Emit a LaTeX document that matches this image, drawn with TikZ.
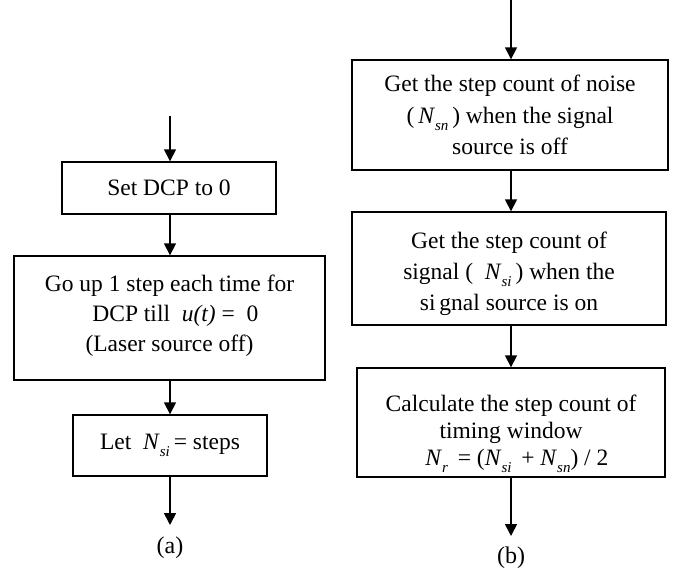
\documentclass[tikz,border=0pt]{standalone}
\usepackage{fontspec}
\setmainfont{Liberation Serif}
\usetikzlibrary{arrows.meta}
\newcommand{\Nsub}[1]{\textit{N}\raisebox{-0.3em}{\fontsize{15}{15}\selectfont\textit{#1}}}
\begin{document}
\begin{tikzpicture}[x=1pt,y=-1pt,
  box/.style={draw,line width=1.4pt,align=center,inner sep=0pt,font=\fontsize{23.5}{30}\selectfont},
  boxtext/.style={align=center,inner sep=0pt},
  arr/.style={line width=1.6pt,-{Triangle[width=12pt,length=12pt]}},
  figlabel/.style={font=\fontsize{24}{28}\selectfont}]
\useasboundingbox (0,0) rectangle (679,569);
% (a)
\coordinate (atop) at (170,116);
\node[box,minimum width=214pt,minimum height=52pt] (a1) at (169,188) {Set DCP to 0};
\node[box,minimum width=311pt,minimum height=124pt] (a2) at (169.5,318) {};
\node[boxtext,font=\fontsize{23.5}{30}\selectfont] (a2t) at ([yshift=2pt]a2.center) {Go up 1 step each time for\\ \ \ DCP till \ \textit{u(t)} = \ 0\\ (Laser source off)};
\node[box,minimum width=194pt,minimum height=61pt] (a3) at (170,445.5) {Let \ \Nsub{si}\,= steps};
\coordinate (abot) at (170,525);
\node[figlabel] (la) at (170,548) {(a)};
\draw[arr] (atop) -- (atop |- a1.north);
\draw[arr] (a1.south -| atop) -- (atop |- a2.north);
\draw[arr] (a2.south -| atop) -- (atop |- a3.north);
\draw[arr] (a3.south -| atop) -- (abot);
% (b)
\coordinate (btop) at (511,0);
\node[box,minimum width=316pt,minimum height=110pt] (b1) at (510,115) {};
\node[boxtext,font=\fontsize{23.5}{31.5}\selectfont] (b1t) at (b1.center) {Get the step count of noise\\ (\,\Nsub{sn}\,) when the signal\\ source is off};
\node[box,minimum width=314pt,minimum height=113pt] (b2) at (509,268.5) {};
\node[boxtext,font=\fontsize{23.5}{31}\selectfont] (b2t) at ([yshift=-5pt]b2.center) {Get the step count of\\ signal ( \ \Nsub{si}\,) when the\\ si\,gnal source is on};
\node[box,minimum width=308pt,minimum height=109pt] (b3) at (511,422.5) {};
\node[boxtext,font=\fontsize{23.5}{27}\selectfont] (b3t) at ([yshift=-11pt]b3.center) {Calculate the step count of\\ timing window\\ \ \ \Nsub{r}\, = (\Nsub{si}\, + \Nsub{sn}) / 2};
\coordinate (bbot) at (511,536);
\node[figlabel] (lb) at (511,558) {(b)};
\draw[arr] (btop) -- (btop |- b1.north);
\draw[arr] (b1.south -| btop) -- (btop |- b2.north);
\draw[arr] (b2.south -| btop) -- (btop |- b3.north);
\draw[arr] (b3.south -| btop) -- (bbot);
\end{tikzpicture}
\end{document}
